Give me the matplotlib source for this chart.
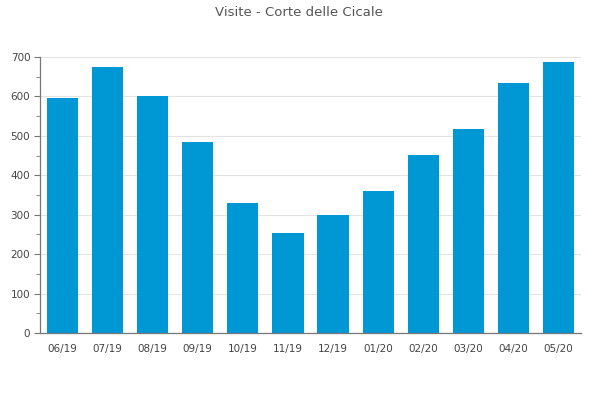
import matplotlib
matplotlib.use("Agg")
import matplotlib.pyplot as plt
from matplotlib.ticker import MultipleLocator

months = ["06/19", "07/19", "08/19", "09/19", "10/19", "11/19",
          "12/19", "01/20", "02/20", "03/20", "04/20", "05/20"]
visits = [597, 675, 602, 485, 330, 254, 300, 361, 452, 518, 635, 688]
title = "Visite - Corte delle Cicale"
yticks = [0, 100, 200, 300, 400, 500, 600, 700]

plt.rcParams['font.family'] = ['DejaVu Sans']

fig = plt.figure(figsize=(6, 4), dpi=100)
ax = fig.add_axes([40/600, 1 - 333/400, 541/600, (333 - 57)/400])

x = list(range(len(months)))
ax.bar(x, visits, width=0.69, color="#0097d5", zorder=2)

ax.set_xlim(-0.5, len(months) - 0.5)
ax.set_ylim(0, 700)
ax.set_yticks(yticks)
ax.yaxis.set_minor_locator(MultipleLocator(50))
ax.set_xticks(x)
ax.set_xticklabels(months)

ax.grid(axis="y", color="#e3e3e3", linewidth=0.8, zorder=0)
for s in ["top", "right"]:
    ax.spines[s].set_visible(False)
for s in ["left", "bottom"]:
    ax.spines[s].set_color("#777777")
    ax.spines[s].set_linewidth(0.9)

ax.tick_params(axis="y", which="major", length=4, color="#777777", labelsize=7.5,
               labelcolor="#444444", pad=3)
ax.tick_params(axis="y", which="minor", length=3, color="#777777")
ax.tick_params(axis="x", length=0, labelsize=7.5, labelcolor="#444444", pad=8)

fig.text(0.498, 1 - 12/400, title, ha="center", va="center", fontsize=9.5, color="#555555")

fig.savefig("out.png", dpi=100)
